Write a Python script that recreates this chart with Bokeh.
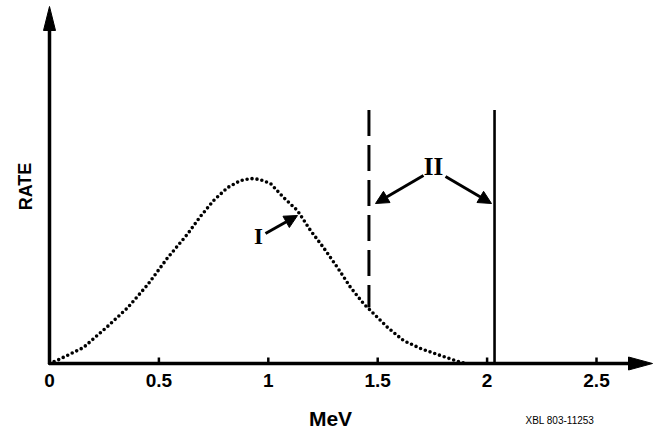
from bokeh.plotting import figure
from bokeh.models import Range1d, Label, Arrow, NormalHead
from bokeh.embed import file_html
from bokeh.resources import INLINE
from bokeh.core.properties import value

# ---- data ----
energy = [0.0, 0.04, 0.155, 0.265, 0.356, 0.448, 0.539, 0.631, 0.69, 0.75, 0.814,
          0.873, 0.919, 0.96, 1.01, 1.07, 1.133, 1.193, 1.252, 1.316, 1.376, 1.435,
          1.481, 1.545, 1.618, 1.696, 1.787, 1.865, 1.90]
rate = [0.0, 0.02, 0.086, 0.2, 0.3, 0.425, 0.57, 0.70, 0.795, 0.881, 0.951,
        0.989, 1.0, 0.995, 0.973, 0.897, 0.827, 0.719, 0.627, 0.519, 0.411, 0.324,
        0.27, 0.195, 0.124, 0.081, 0.043, 0.012, 0.0]
tick_values = [0, 0.5, 1, 1.5, 2, 2.5]
tick_labels = ["0", "0.5", "1", "1.5", "2", "2.5"]
cut_dashed = 1.46
cut_dashed_bottom = 0.303
cut_solid = 2.034
cut_top = 1.37

# ---- layout: whole canvas is the frame ----
W, H = 659, 429
OX, OY = 49, 363          # pixel position of the origin
PX_X = 218.8              # pixels per MeV
PX_Y = 185.0              # pixels per rate unit
SHIFT = 7                 # text baseline correction, px

def px(xp, yp):
    return (xp - OX) / PX_X, (OY - yp) / PX_Y

p = figure(width=W, height=H, output_backend="svg", toolbar_location=None,
           x_range=Range1d(-OX / PX_X, (W - OX) / PX_X),
           y_range=Range1d((OY - H) / PX_Y, OY / PX_Y),
           x_axis_location=None, y_axis_location=None,
           min_border=0, min_border_left=0, min_border_right=0,
           min_border_top=0, min_border_bottom=0)
p.outline_line_color = None
p.grid.visible = False
p.background_fill_color = "white"
p.border_fill_color = "white"

INK = "black"
x_tip, _ = px(652, 0)
_, y_tip = px(0, 6)
head_x = 24 / PX_X
head_y = 24 / PX_Y

# axes with arrowheads
p.line([0, x_tip - head_x * 0.5], [0, 0], line_width=3.5, color=INK)
p.line([0, 0], [0, y_tip - head_y * 0.5], line_width=3.5, color=INK)
p.patch([x_tip, x_tip - head_x, x_tip - head_x],
        [0, 6.5 / PX_Y, -6.5 / PX_Y], color=INK)
p.patch([0, -6 / PX_X, 6 / PX_X],
        [y_tip, y_tip - head_y, y_tip - head_y], color=INK)

# small tick marks pointing up
p.segment(x0=tick_values[1:], y0=[0] * 5, x1=tick_values[1:], y1=[6 / PX_Y] * 5,
          line_width=2.5, color=INK)

# tick labels
_, y_lab = px(0, 387 - SHIFT)
p.text(x=tick_values, y=[y_lab] * len(tick_values), text=tick_labels,
       text_font=value("Liberation Sans"), text_font_style="bold",
       text_font_size="19px", text_align="center", text_baseline="alphabetic",
       text_color=INK)

# spectrum I (dotted)
p.line(energy, rate, line_width=3.6, line_dash="0 5", line_cap="round", color=INK)

# thresholds II
p.line([cut_dashed, cut_dashed], [cut_top, cut_dashed_bottom], line_width=3,
       line_dash="26 9", color=INK)
p.line([cut_solid, cut_solid], [0, cut_top], line_width=2.6, color=INK)

def arrow(a, b):
    xs, ys = px(*a)
    xe, ye = px(*b)
    p.add_layout(Arrow(x_start=xs, y_start=ys, x_end=xe, y_end=ye, line_width=3,
                       line_color=INK,
                       end=NormalHead(size=13, fill_color=INK, line_color=INK,
                                      line_width=1)))

arrow((265, 233), (297, 215))
arrow((423, 175), (375, 203))
arrow((445, 176), (491, 203))

def label(text, xp, yp, font, size, angle=0.0, align="center",
          baseline="alphabetic", style="bold"):
    x, y = px(xp, yp)
    p.add_layout(Label(x=x, y=y, text=text, text_font=font, text_font_size=size,
                       text_font_style=style, text_align=align,
                       text_baseline=baseline, angle=angle, text_color=INK))

label("I", 258, 243 - SHIFT, "Liberation Serif", "23px")
label("II", 433, 173 - SHIFT, "Liberation Serif", "25px")
label("MeV", 330, 425 - SHIFT, "Liberation Sans", "21px")
label("RATE", 32 - SHIFT, 186, "Liberation Sans", "18px", angle=1.5708)
label("XBL 803-11253", 525, 427 - SHIFT, "Liberation Sans", "10px", align="left",
      style="normal")

open("out.html", "w").write(file_html(p, INLINE))
